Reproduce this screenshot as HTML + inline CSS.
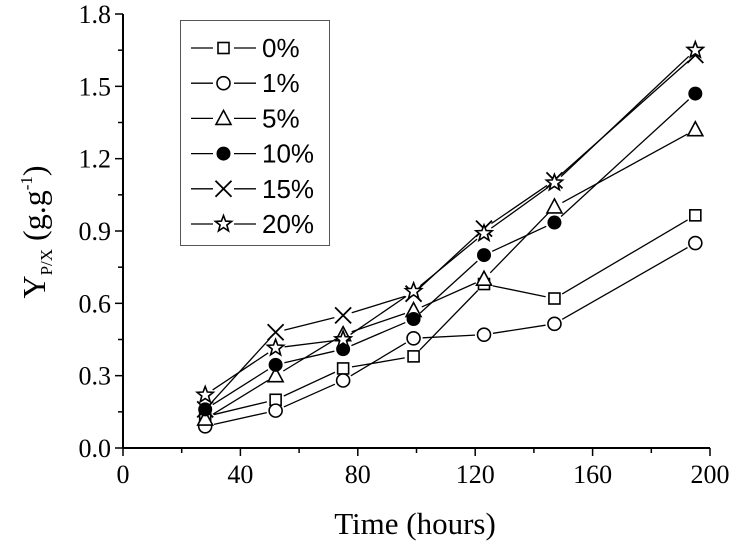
<!DOCTYPE html>
<html><head><meta charset="utf-8"><style>
body{margin:0;background:#fff}
svg text{font-family:"Liberation Serif",serif;fill:#000}
.lg{font-family:"Liberation Sans",sans-serif}
</style></head><body>
<svg id="chart" width="732" height="548" viewBox="0 0 732 548" xmlns="http://www.w3.org/2000/svg">
<g id="axes"></g>
<g id="series"></g>
<g id="legend"></g>
<text x="415" y="534" font-size="31" text-anchor="middle">Time (hours)</text>
<text transform="translate(45,232) rotate(-90)" font-size="32" text-anchor="middle">Y<tspan font-size="17" dy="7">P/X</tspan><tspan dy="-7"> (g.g</tspan><tspan font-size="17" dy="-13">-1</tspan><tspan dy="13">)</tspan></text>
</svg>
<script>
const times=[28,52,75,99,123,147,195];
const labels=["0%","1%","5%","10%","15%","20%"];
const markers=["square","circle","triangle","dot","cross","star"];
const s0=[0.13,0.2,0.33,0.38,0.68,0.62,0.965];
const s1=[0.09,0.155,0.28,0.455,0.47,0.515,0.85];
const s5=[0.12,0.3,0.47,0.57,0.7,1.0,1.32];
const s10=[0.16,0.345,0.41,0.535,0.8,0.935,1.47];
const s15=[0.16,0.48,0.55,0.64,0.91,1.11,1.63];
const s20=[0.22,0.415,0.45,0.65,0.89,1.1,1.65];
const seriesData=[s0,s1,s5,s10,s15,s20];
const xTicks=[0,40,80,120,160,200];
const yTicks=[0.0,0.3,0.6,0.9,1.2,1.5,1.8];
const NS="http://www.w3.org/2000/svg";
const X0=123,X1=710,Y0=448,Y1=14;
const xs=v=>X0+(v/200)*(X1-X0);
const ys=v=>Y0-(v/1.8)*(Y0-Y1);
function mk(tag,attrs,parent){const e=document.createElementNS(NS,tag);for(const k in attrs)e.setAttribute(k,attrs[k]);parent.appendChild(e);return e;}
const axes=document.getElementById('axes');
let l=mk('line',{x1:X0,y1:Y0,x2:X1,y2:Y0,stroke:'#000','stroke-width':2},axes);


l=mk('line',{x1:X0,y1:Y0,x2:X0,y2:Y1,stroke:'#000','stroke-width':2},axes);


xTicks.forEach((t,i)=>{
  mk('line',{x1:xs(t),y1:Y0,x2:xs(t),y2:Y0+8,stroke:'#000','stroke-width':1.5},axes);
  if(i<xTicks.length-1)mk('line',{x1:xs(t+20),y1:Y0,x2:xs(t+20),y2:Y0+5,stroke:'#000','stroke-width':1.5},axes);
  const tx=mk('text',{x:xs(t),y:483,'font-size':26,'text-anchor':'middle'},axes);tx.textContent=t;
  
  
});
yTicks.forEach((t,i)=>{
  mk('line',{x1:X0,y1:ys(t),x2:X0-8,y2:ys(t),stroke:'#000','stroke-width':1.5},axes);
  if(i<yTicks.length-1)mk('line',{x1:X0,y1:ys(t+0.15),x2:X0-5,y2:ys(t+0.15),stroke:'#000','stroke-width':1.5},axes);
  const tx=mk('text',{x:X0-12,y:ys(t)+9,'font-size':26,'text-anchor':'end'},axes);tx.textContent=t.toFixed(1);
  
  
});
function marker(type,cx,cy,g){
  const a={stroke:'#000','stroke-width':1.6,fill:'#fff'};
  let e;
  if(type==='square')e=mk('rect',Object.assign({x:cx-5.5,y:cy-5.5,width:11,height:11},a),g);
  else if(type==='circle')e=mk('circle',Object.assign({cx,cy,r:6.5},a),g);
  else if(type==='dot')e=mk('circle',{cx,cy,r:7,fill:'#000'},g);
  else if(type==='triangle')e=mk('polygon',Object.assign({points:`${cx},${cy-8} ${cx+7.5},${cy+6} ${cx-7.5},${cy+6}`},a),g);
  else if(type==='cross')e=mk('path',{d:`M${cx-8},${cy-8}L${cx+8},${cy+8}M${cx-8},${cy+8}L${cx+8},${cy-8}`,stroke:'#000','stroke-width':1.8,fill:'none'},g);
  else{let p=[];for(let k=0;k<10;k++){const r=k%2?3.6:8.5,an=-Math.PI/2+k*Math.PI/5;p.push((cx+r*Math.cos(an)).toFixed(1)+','+(cy+r*Math.sin(an)).toFixed(1));}
    e=mk('polygon',Object.assign({points:p.join(' ')},a),g);}
  return e;
}
const sg=document.getElementById('series');
seriesData.forEach((d,si)=>{
  const g=mk('g',{},sg);
  
  
  for(let i=0;i<d.length-1;i++){
    const ax=xs(times[i]),ay=ys(d[i]),bx=xs(times[i+1]),by=ys(d[i+1]);
    const L=Math.hypot(bx-ax,by-ay),gap=9;
    if(L>2*gap){const ux=(bx-ax)/L,uy=(by-ay)/L;
      mk('line',{x1:ax+ux*gap,y1:ay+uy*gap,x2:bx-ux*gap,y2:by-uy*gap,stroke:'#000','stroke-width':1.3},g);}
  }
  d.forEach((v,i)=>{const m=marker(markers[si],xs(times[i]),ys(v),g);
    
    });
});
const lg=document.getElementById('legend');
const box=mk('rect',{x:180.5,y:20.5,width:149,height:225,fill:'#fff',stroke:'#555','stroke-width':1},lg);


labels.forEach((lab,i)=>{
  const y=48+i*35.2;
  const g=mk('g',{},lg);
  
  
  mk('line',{x1:191,y1:y,x2:213,y2:y,stroke:'#000','stroke-width':1.3},g);
  mk('line',{x1:234,y1:y,x2:256,y2:y,stroke:'#000','stroke-width':1.3},g);
  marker(markers[i],223.5,y,g);
  const t=mk('text',{x:262,y:y+9,'font-size':26,class:'lg'},g);t.textContent=lab;
});
</script>
</body></html>
